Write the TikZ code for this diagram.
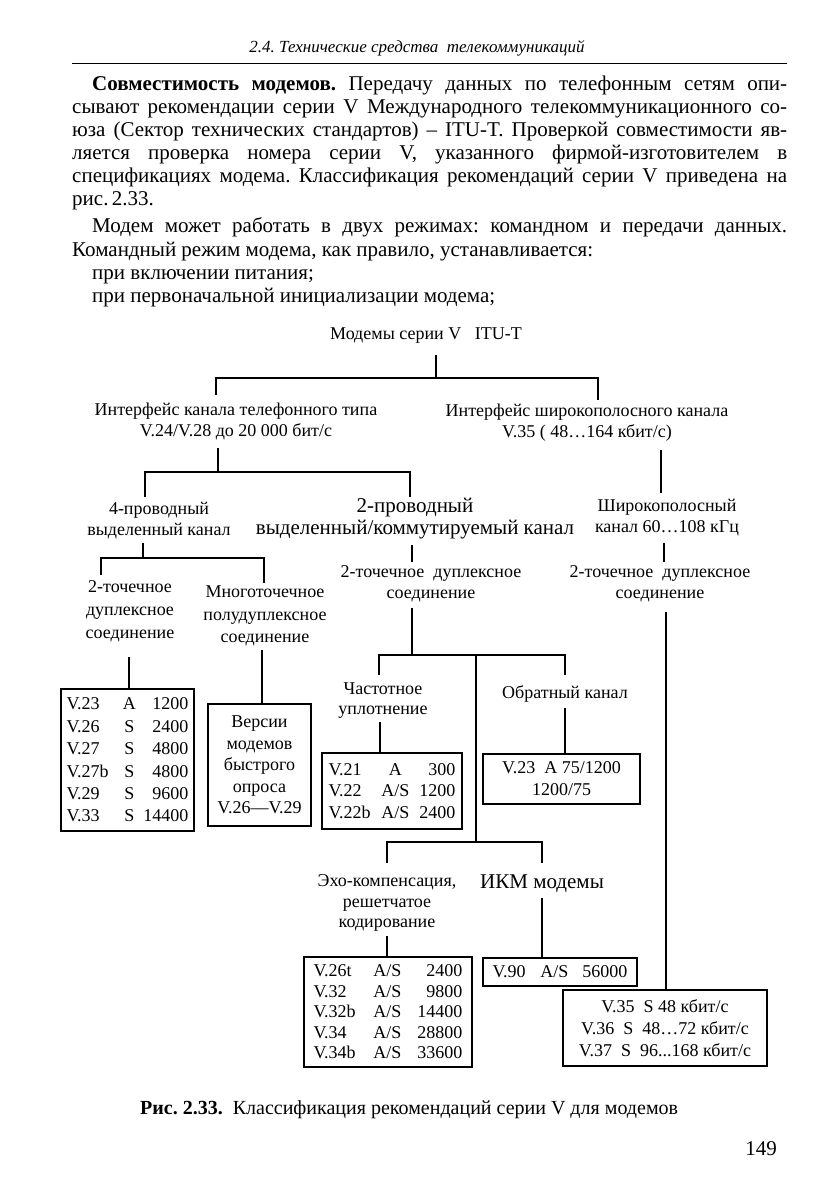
\documentclass[tikz,border=0pt]{standalone}
\usepackage{fontspec}
\setmainfont{Liberation Serif}
\newcommand\tri[6]{\makebox[#1pt][l]{#4}\makebox[#2pt][c]{#5}\makebox[#3pt][r]{#6}}
\newcommand\trl[6]{\makebox[#1pt][l]{#4}\makebox[#2pt][l]{#5}\makebox[#3pt][r]{#6}}
\frenchspacing
\begin{document}
\frenchspacing
\begin{tikzpicture}[x=1pt,y=-1pt,
  body/.style={anchor=base west, inner sep=0, font=\fontsize{21}{23}\selectfont},
  lbl/.style={align=center, inner sep=0, font=\fontsize{18}{21.5}\selectfont},
  big/.style={align=center, inner sep=0, font=\fontsize{21}{22}\selectfont},
  box/.style={draw, line width=1.6pt, inner sep=0, align=center, font=\fontsize{18}{21.5}\selectfont},
  ln/.style={line width=1.3pt}]
\useasboundingbox (0,0) rectangle (834,1198);
\fill[white] (0,0) rectangle (834,1198);

% header
\node[anchor=base, inner sep=0, font=\fontsize{17}{20}\selectfont\itshape] (hdr) at (417,53) {2.4. Технические средства\ \ телекоммуникаций};
\draw[line width=1.8pt] (72,63.5) -- (787,63.5);

% body text
\node[body] (t1) at (92,91) {\makebox[695pt][s]{\textbf{Совместимость модемов.} Передачу данных по телефонным сетям опи-}};
\node[body] (t2) at (72,114) {\makebox[715pt][s]{сывают рекомендации серии V Международного телекоммуникационного со-}};
\node[body] (t3) at (72,137) {\makebox[715pt][s]{юза (Сектор технических стандартов) – ITU-T. Проверкой совместимости яв-}};
\node[body] (t4) at (72,160) {\makebox[715pt][s]{ляется проверка номера серии V, указанного фирмой-изготовителем в}};
\node[body] (t5) at (72,183) {\makebox[715pt][s]{спецификациях модема. Классификация рекомендаций серии V приведена на}};
\node[body] (t6) at (72,206) {рис.\,2.33.};
\node[body] (t7) at (92,233) {\makebox[695pt][s]{Модем может работать в двух режимах: командном и передачи данных.}};
\node[body] (t8) at (72,256) {Командный режим модема, как правило, устанавливается:};
\node[body] (t9) at (92,279) {при включении питания;};
\node[body] (t10) at (92,302) {при первоначальной инициализации модема;};

% diagram labels
\node[lbl] (root) at (426,336) {Модемы серии V\ \ \ ITU-T};
\node[lbl, font=\fontsize{18}{21}\selectfont] (tel) at (236,421.5) {Интерфейс канала телефонного типа\\V.24/V.28 до 20 000 бит/с};
\node[lbl, font=\fontsize{18}{21}\selectfont] (wide) at (587,422.5) {Интерфейс широкополосного канала\\V.35 ( 48…164 кбит/с)};
\node[lbl] (four) at (159,520.5) {4-проводный\\выделенный канал};
\node[big] (two) at (415,519) {2-проводный\\выделенный/коммутируемый канал};
\node[lbl, font=\fontsize{18}{21}\selectfont] (band) at (667,518) {Широкополосный\\канал 60…108 кГц};
\node[lbl, font=\fontsize{18}{23}\selectfont] (p2a) at (130,611.5) {2-точечное\\дуплексное\\соединение};
\node[lbl, font=\fontsize{18}{22.5}\selectfont] (multi) at (265,616) {Многоточечное\\полудуплексное\\соединение};
\node[lbl, font=\fontsize{18}{21}\selectfont] (p2b) at (431,584) {2-точечное\ \ дуплексное\\соединение};
\node[lbl, font=\fontsize{18}{21}\selectfont] (p2c) at (660,584) {2-точечное\ \ дуплексное\\соединение};
\node[lbl, font=\fontsize{18}{20}\selectfont] (freq) at (383,700.5) {Частотное\\уплотнение};
\node[lbl] (back) at (565,693.5) {Обратный канал};
\node[lbl, font=\fontsize{18}{20.5}\selectfont] (echo) at (387,903) {Эхо-компенсация,\\решетчатое\\кодирование};
\node[big] (pcm) at (542,883.5) {ИКМ модемы};

% boxes
\node[box, minimum width=133pt, minimum height=142pt, font=\fontsize{18}{22.4}\selectfont] (b1) at (127.5,760)
  {\tri{53}{20}{49}{V.23}{A}{1200}\\\tri{53}{20}{49}{V.26}{S}{2400}\\\tri{53}{20}{49}{V.27}{S}{4800}\\
   \tri{53}{20}{49}{V.27b}{S}{4800}\\\tri{53}{20}{49}{V.29}{S}{9600}\\\tri{53}{20}{49}{V.33}{S}{14400}};
\node[box, minimum width=103pt, minimum height=122pt] (b2) at (259.5,765)
  {Версии\\модемов\\быстрого\\опроса\\V.26—V.29};
\node[box, minimum width=140pt, minimum height=76pt] (b3) at (392,791)
  {\tri{44}{46}{37}{V.21}{A}{300}\\\tri{44}{46}{37}{V.22}{A/S}{1200}\\\tri{44}{46}{37}{V.22b}{A/S}{2400}};
\node[box, minimum width=157pt, minimum height=50pt, font=\fontsize{18}{22}\selectfont] (b4) at (561.5,779)
  {V.23\ \ A 75/1200\\1200/75};
\node[box, minimum width=168pt, minimum height=110pt, font=\fontsize{18}{20.5}\selectfont] (b5) at (388,1012)
  {\trl{60}{30}{59}{V.26t}{A/S}{2400}\\\trl{60}{30}{59}{V.32}{A/S}{9800}\\\trl{60}{30}{59}{V.32b}{A/S}{14400}\\
   \trl{60}{30}{59}{V.34}{A/S}{28800}\\\trl{60}{30}{59}{V.34b}{A/S}{33600}};
\node[box, minimum width=154pt, minimum height=28pt] (b6) at (560,972)
  {\makebox[48pt][l]{V.90}\makebox[42pt][l]{A/S}56000};
\node[box, minimum width=204pt, minimum height=76pt, font=\fontsize{18}{22}\selectfont] (b7) at (665,1028)
  {V.35\ \ S 48 кбит/с\\V.36\ \ S\ \ 48…72 кбит/с\\V.37\ \ S\ \ 96...168 кбит/с};

% connector coordinates
\coordinate (c0) at (436,355);   \coordinate (c0j) at (436,378);
\coordinate (c0l) at (216,378);  \coordinate (c0r) at (598,378);
\coordinate (tel-in) at (216,395); \coordinate (wide-in) at (598,400);
\coordinate (c1) at (218,448);   \coordinate (c1j) at (218,472);
\coordinate (c1l) at (145,472);  \coordinate (c1r) at (410,472);
\coordinate (four-in) at (145,497); \coordinate (two-in) at (410,497);
\coordinate (c2) at (143,543);   \coordinate (c2j) at (143,558);
\coordinate (c2l) at (101,558);  \coordinate (c2r) at (264,558);
\coordinate (p2a-in) at (101,575); \coordinate (multi-in) at (264,583);
\coordinate (p2a-out) at (129,657); \coordinate (multi-out) at (262,650);
\coordinate (two-out) at (412,545); \coordinate (p2b-in) at (412,562);
\coordinate (p2b-out) at (412,608); \coordinate (c3j) at (412,655);
\coordinate (c3l) at (379,655);  \coordinate (c3r) at (565,655);
\coordinate (freq-in) at (379,675); \coordinate (back-in) at (565,675);
\coordinate (c3m) at (476,655);  \coordinate (c4j) at (476,842);
\coordinate (c4l) at (387,842);  \coordinate (c4r) at (542,842);
\coordinate (echo-in) at (387,863); \coordinate (pcm-in) at (542,863);
\coordinate (freq-out) at (380,722); \coordinate (back-out) at (565,708);
\coordinate (echo-out) at (387,936); \coordinate (pcm-out) at (542,898);
\coordinate (wide-out) at (661,450); \coordinate (band-in) at (661,493);
\coordinate (band-out) at (664,543); \coordinate (p2c-in) at (664,562);
\coordinate (p2c-out) at (666,612);

% connectors
\draw[ln] (c0) -- (c0j);
\draw[ln] (tel-in) -- (c0l) -- (c0r) -- (wide-in);
\draw[ln] (c1) -- (c1j);
\draw[ln] (four-in) -- (c1l) -- (c1r) -- (two-in);
\draw[ln] (c2) -- (c2j);
\draw[ln] (p2a-in) -- (c2l) -- (c2r) -- (multi-in);
\draw[ln] (p2a-out) -- (b1.north -| p2a-out);
\draw[ln] (multi-out) -- (b2.north -| multi-out);
\draw[ln] (two-out) -- (p2b-in);
\draw[ln] (p2b-out) -- (c3j);
\draw[ln] (freq-in) -- (c3l) -- (c3r) -- (back-in);
\draw[ln] (c3m) -- (c4j);
\draw[ln] (echo-in) -- (c4l) -- (c4r) -- (pcm-in);
\draw[ln] (freq-out) -- (b3.north -| freq-out);
\draw[ln] (back-out) -- (b4.north -| back-out);
\draw[ln] (echo-out) -- (b5.north -| echo-out);
\draw[ln] (pcm-out) -- (b6.north -| pcm-out);
\draw[ln] (wide-out) -- (band-in);
\draw[ln] (band-out) -- (p2c-in);
\draw[ln] (p2c-out) -- (b7.north -| p2c-out);

% caption and page number
\node[anchor=base west, inner sep=0, font=\fontsize{20}{22}\selectfont] (cap) at (140,1114) {\textbf{Рис. 2.33.}\ \ Классификация рекомендаций серии V для модемов};
\node[anchor=base east, inner sep=0, font=\fontsize{21}{23}\selectfont] (pg) at (777,1155) {149};
\end{tikzpicture}
\end{document}
